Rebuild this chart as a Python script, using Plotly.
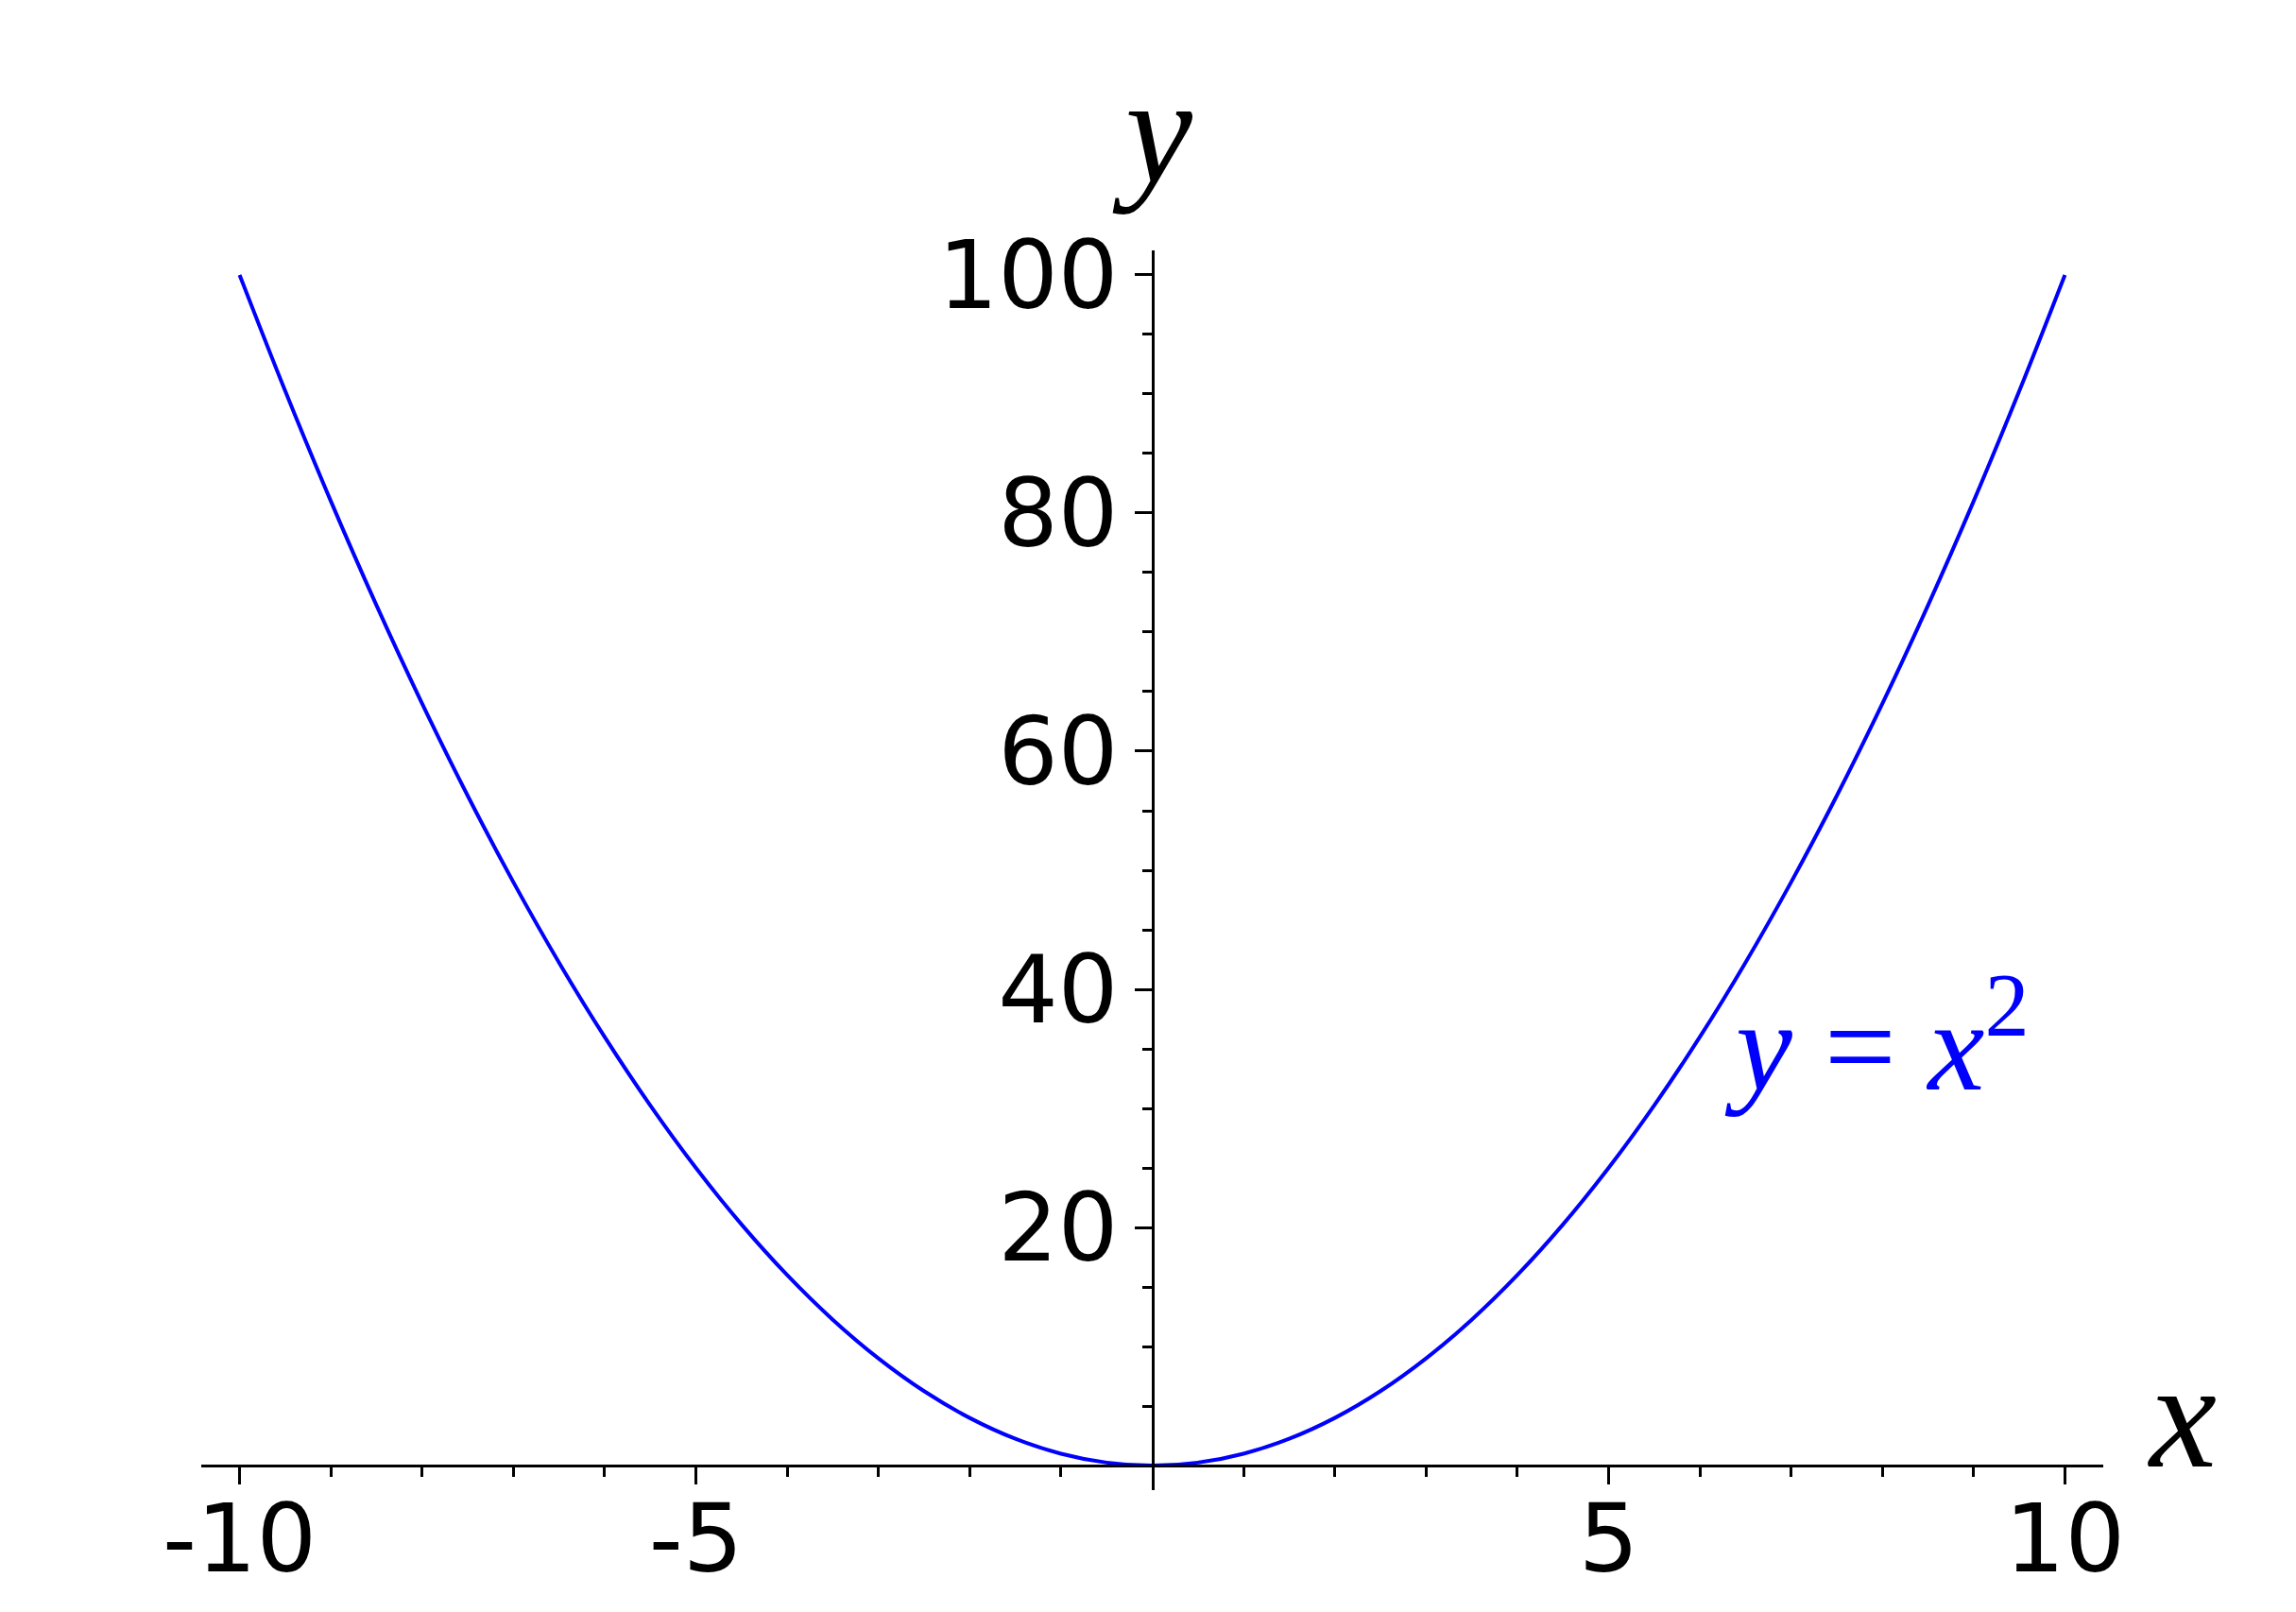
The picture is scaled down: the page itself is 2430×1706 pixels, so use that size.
import plotly.graph_objects as go

# Curve samples (y = x^2)
x_vals = [-10, -9.5, -9, -8.5, -8, -7.5, -7, -6.5, -6, -5.5, -5, -4.5, -4, -3.5, -3, -2.5, -2, -1.5, -1, -0.5,
          0, 0.5, 1, 1.5, 2, 2.5, 3, 3.5, 4, 4.5, 5, 5.5, 6, 6.5, 7, 7.5, 8, 8.5, 9, 9.5, 10]
y_vals = [100, 90.25, 81, 72.25, 64, 56.25, 49, 42.25, 36, 30.25, 25, 20.25, 16, 12.25, 9, 6.25, 4, 2.25, 1, 0.25,
          0, 0.25, 1, 2.25, 4, 6.25, 9, 12.25, 16, 20.25, 25, 30.25, 36, 42.25, 49, 56.25, 64, 72.25, 81, 90.25, 100]

x_ticks = [-10, -5, 5, 10]
x_tick_text = ["-10", "-5", "5", "10"]
x_minor = [-9, -8, -7, -6, -4, -3, -2, -1, 1, 2, 3, 4, 6, 7, 8, 9]
y_ticks = [20, 40, 60, 80, 100]
y_tick_text = ["20", "40", "60", "80", "100"]
y_minor = [5, 10, 15, 25, 30, 35, 45, 50, 55, 65, 70, 75, 85, 90, 95]

x_range = [-10.42, 10.42]
y_range = [-2.06, 102.06]

fig = go.Figure()
fig.add_trace(go.Scatter(x=x_vals, y=y_vals, mode="lines",
                         line=dict(color="#0000ff", width=4, shape="spline", smoothing=1),
                         showlegend=False, hoverinfo="skip"))

x_axis_pos = (0 - y_range[0]) / (y_range[1] - y_range[0])
y_axis_pos = (0 - x_range[0]) / (x_range[1] - x_range[0])

tick_font = dict(family="DejaVu Sans", size=100, color="black")

fig.update_layout(
    template="none",
    width=2414, height=1690,
    margin=dict(l=205, r=196, t=257, b=121, autoexpand=False),
    paper_bgcolor="white", plot_bgcolor="white",
    xaxis=dict(range=x_range, anchor="free", position=x_axis_pos, automargin=False,
               showgrid=False, zeroline=False, showline=True, linecolor="black", linewidth=3,
               ticks="outside", ticklen=18, tickwidth=3, tickcolor="black",
               tickvals=x_ticks, ticktext=x_tick_text, tickfont=tick_font, ticklabelstandoff=-28,
               minor=dict(tickvals=x_minor, ticks="outside", ticklen=10, tickwidth=2.5, tickcolor="black",
                          showgrid=False)),
    yaxis=dict(range=y_range, anchor="free", position=y_axis_pos, automargin=False,
               showgrid=False, zeroline=False, showline=True, linecolor="black", linewidth=3,
               ticks="outside", ticklen=18, tickwidth=3, tickcolor="black",
               tickvals=y_ticks, ticktext=y_tick_text, tickfont=tick_font, ticklabelstandoff=-3,
               minor=dict(tickvals=y_minor, ticks="outside", ticklen=10, tickwidth=2.5, tickcolor="black",
                          showgrid=False)),
)

label_font = dict(family="Liberation Serif", size=160, color="black")
fig.add_annotation(text="<i>x</i>", xref="paper", yref="paper", x=1.0415, y=0.060,
                   xanchor="center", yanchor="middle", showarrow=False, font=label_font)
fig.add_annotation(text="<i>y</i>", xref="paper", yref="paper", x=0.5, y=1.096,
                   xanchor="center", yanchor="middle", showarrow=False, font=label_font)

fig.add_annotation(text="<i>y</i> = <i>x</i><sup>2</sup>", x=7.94, y=36.0, xref="x", yref="y",
                   xanchor="center", yanchor="middle", showarrow=False,
                   font=dict(family="Liberation Serif", size=135, color="#0000ff"))

fig.write_html("out.html")
